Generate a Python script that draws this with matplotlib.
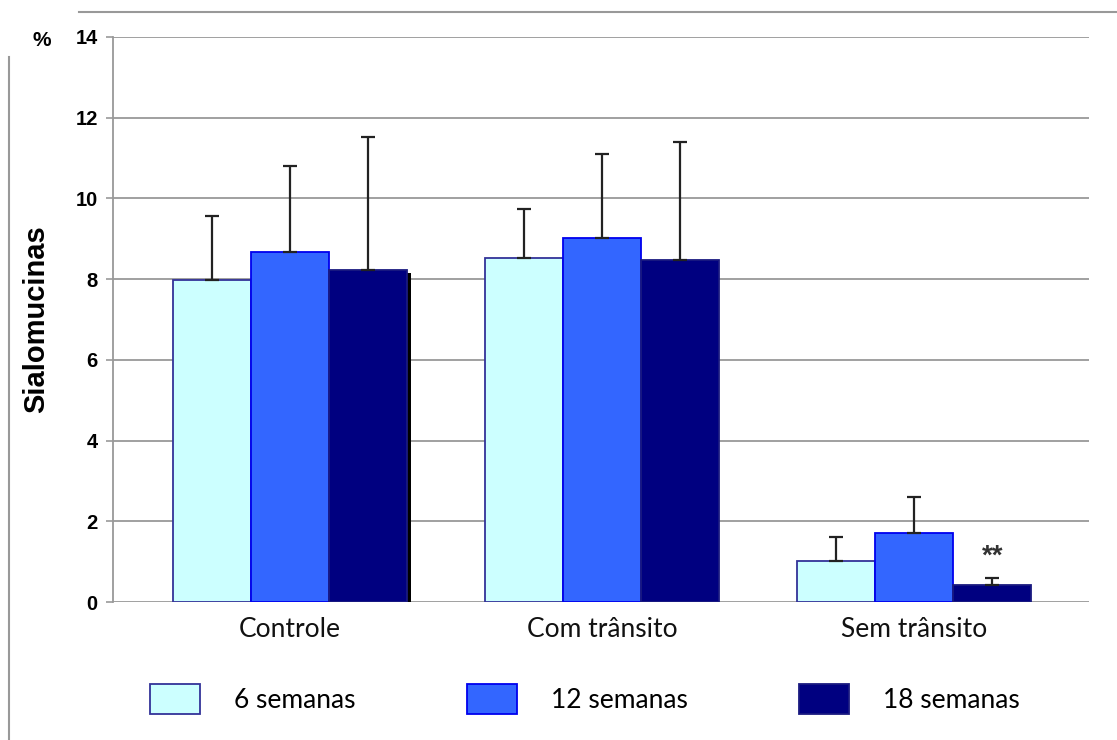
import numpy as np
import matplotlib
matplotlib.use("Agg")
import matplotlib.pyplot as plt
from matplotlib.lines import Line2D

# data
grupos = ["Controle", "Com trânsito", "Sem trânsito"]
series = ["6 semanas", "12 semanas", "18 semanas"]
sem6 = [7.98, 8.52, 1.02]
sem12 = [8.67, 9.02, 1.71]
sem18 = [8.23, 8.47, 0.42]
err6 = [1.59, 1.22, 0.60]
err12 = [2.13, 2.08, 0.90]
err18 = [3.29, 2.93, 0.17]
yticks = [0, 2, 4, 6, 8, 10, 12, 14]

cores = ["#CCFFFF", "#3366FF", "#000080"]
bordas = ["#333399", "#0000EE", "#1A1A80"]

fig = plt.figure(figsize=(11.17, 7.40), dpi=100)
ax = fig.add_axes([113/1117, 1 - 602/740, (1089-113)/1117, (602-37)/740])

x = np.arange(len(grupos))
w = 0.25
valores = [sem6, sem12, sem18]
erros = [err6, err12, err18]

# small black shadow seen behind the Controle / 18 semanas bar
ax.bar(x[0] + w + 0.013, sem18[0] - 0.07, w, color="black", zorder=2)

for i in range(3):
    pos = x + (i - 1) * w
    ax.bar(pos, valores[i], w, color=cores[i], edgecolor=bordas[i],
           linewidth=1.3, zorder=3, label=series[i])
    ax.errorbar(pos, valores[i], yerr=[np.zeros(3), erros[i]], fmt="none",
                ecolor="#222222", elinewidth=1.6, capsize=5, capthick=1.6,
                zorder=4)

ax.text(x[2] + w, 1.12, "**", ha="center", va="center", fontsize=20,
        fontweight="bold", color="#333333", family="Liberation Sans")

ax.set_ylim(0, 14)
ax.set_xlim(-0.567, 2.56)
ax.set_yticks(yticks)
ax.set_yticklabels([str(t) for t in yticks], fontsize=14.5, fontweight="bold",
                   family="Liberation Sans")
ax.set_xticks(x)
ax.set_xticklabels(grupos, fontsize=19, family="Lato", color="#111111")
ax.tick_params(axis="x", length=0, pad=11)
ax.tick_params(axis="y", length=5, width=1.2, color="#999999", pad=6)
ax.yaxis.grid(True, color="#999999", linewidth=1.3)
ax.set_axisbelow(True)
for s in ["top", "right", "bottom"]:
    ax.spines[s].set_visible(False)
ax.spines["left"].set_color("#999999")
ax.spines["left"].set_linewidth(1.3)

ax.set_ylabel("Sialomucinas", fontsize=21, fontweight="bold",
              family="Liberation Sans", labelpad=18)
fig.text(42/1117, 1 - 41/740, "%", ha="center", va="center", fontsize=15,
         fontweight="bold", family="Liberation Sans")

leg = fig.legend(loc="center", bbox_to_anchor=(585/1117, 1 - 699/740), ncol=3,
                 frameon=False, prop={"family": "Lato", "size": 19},
                 handlelength=1.9, handleheight=1.36, handletextpad=1.3,
                 columnspacing=4.2)

# border lines of the original frame
fig.add_artist(Line2D([79/1117, 1], [1 - 12/740, 1 - 12/740],
                      color="#999999", linewidth=1.5))
fig.add_artist(Line2D([9/1117, 9/1117], [0, 1 - 57/740],
                      color="#999999", linewidth=1.5))

fig.savefig("out.png", dpi=100)
